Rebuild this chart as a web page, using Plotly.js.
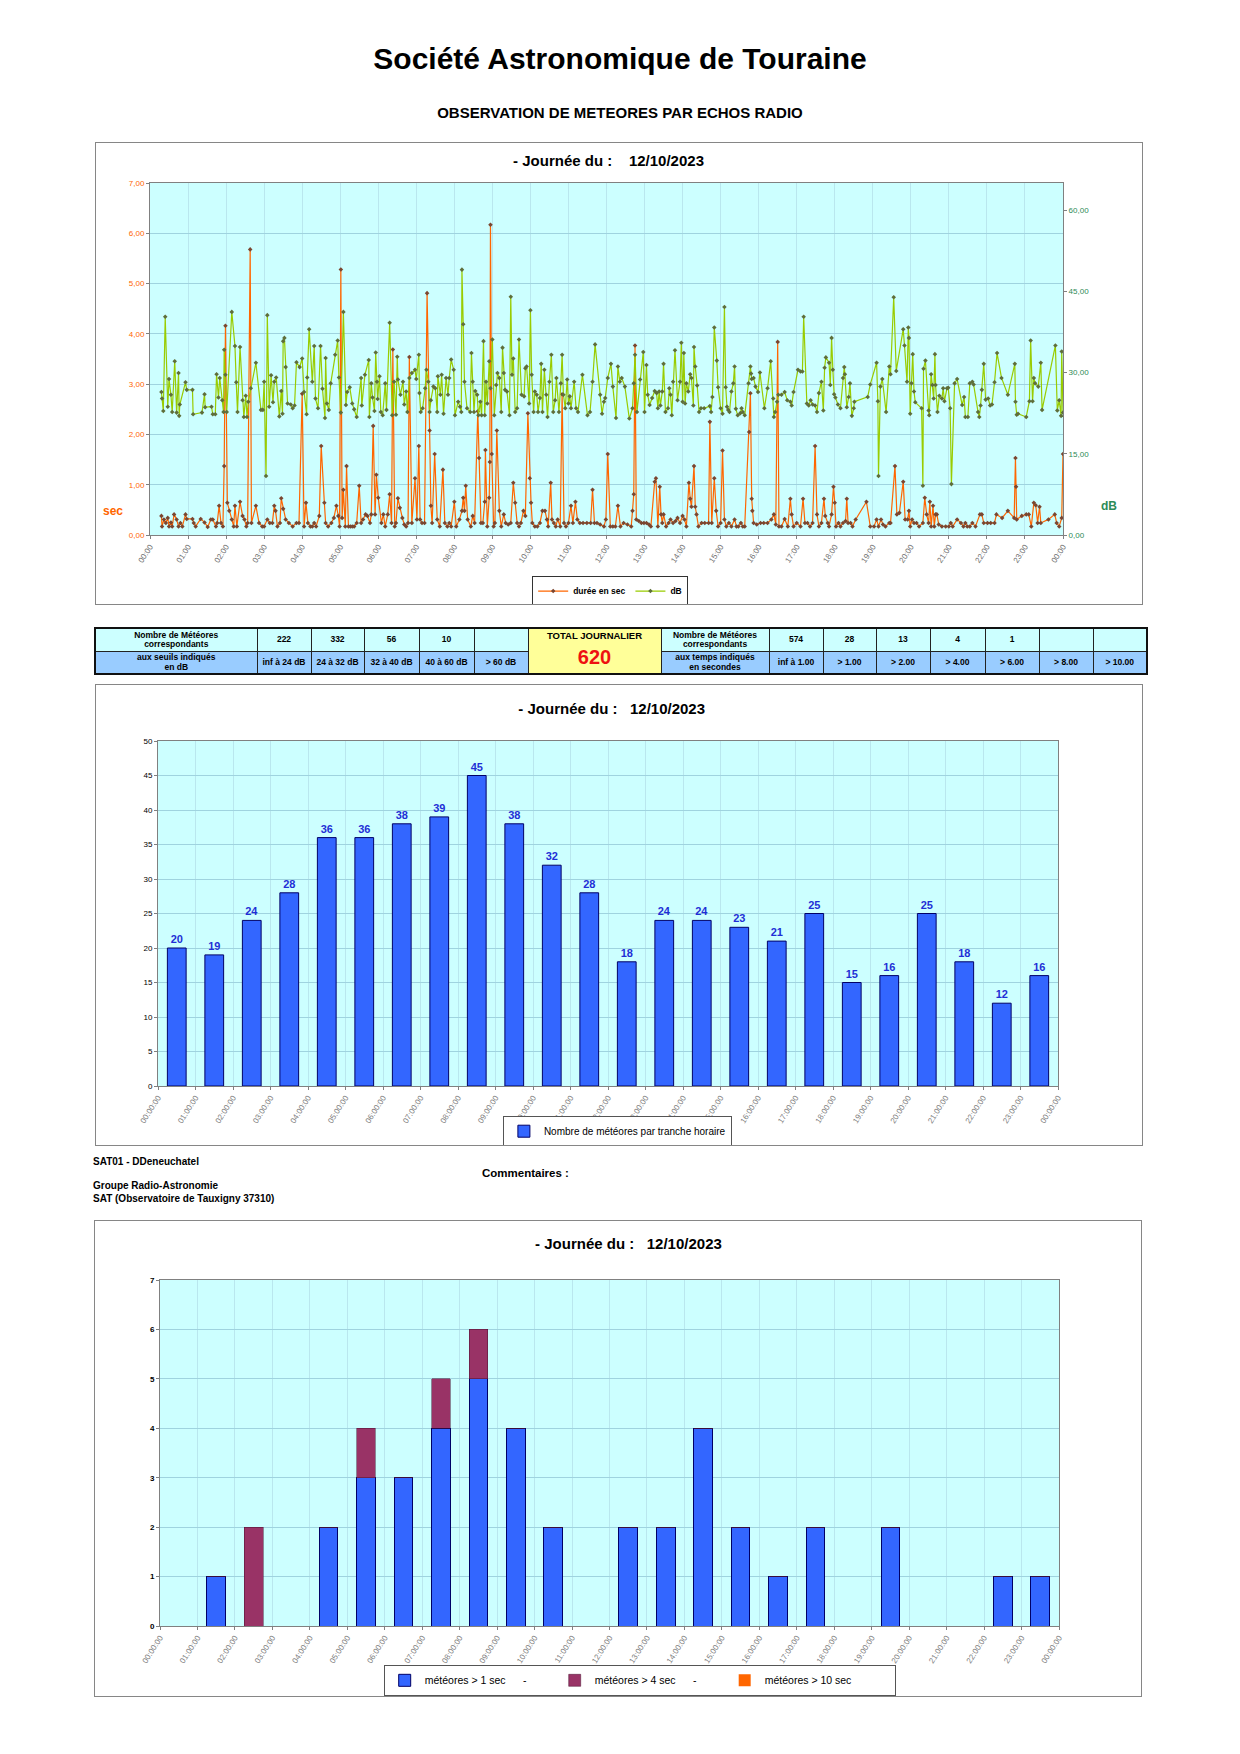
<!DOCTYPE html>
<html>
<head>
<meta charset="utf-8">
<script src="https://cdn.plot.ly/plotly-3.0.1.min.js"></script>
<style>
  body { margin:0; background:#fff; font-family:"Liberation Sans", Arial, sans-serif; }
  #page { position:relative; width:1240px; height:1754px; overflow:hidden; }
  .txt { position:absolute; white-space:nowrap; color:#000; font-weight:bold; }
  .frame { position:absolute; border:1px solid #868686; box-sizing:border-box; background:#fff; }
  .plot { position:absolute; left:0; top:0; }
  #stats { position:absolute; left:94px; top:627px; width:1052px; border-collapse:collapse; table-layout:fixed; border:2px solid #111; }
  #stats td { border:1px solid #222; padding:0; text-align:center; vertical-align:middle; font-size:8.5px; line-height:9.5px; font-weight:bold; overflow:hidden; white-space:nowrap; }
  #stats tr.top td { background:#ccffff; height:22px; }
  #stats tr.bot td { background:#99ccff; height:21px; }
  #stats td.total { background:#ffff99 !important; }
  .tt { font-size:9.5px; font-weight:bold; margin-top:-4px; }
  .tv { font-size:20px; font-weight:bold; color:#ee1111; margin-top:6px; line-height:20px; }
</style>
</head>
<body>
<div id="page">
  <div class="txt" style="left:0;width:1240px;text-align:center;top:42px;font-size:30px;line-height:34px;">Société Astronomique de Touraine</div>
  <div class="txt" style="left:0;width:1240px;text-align:center;top:104px;font-size:15px;line-height:17px;">OBSERVATION DE METEORES PAR ECHOS RADIO</div>

  <div class="frame" style="left:95px;top:142px;width:1048px;height:463px;"><div id="chart1" class="plot"></div></div>

  <table id="stats"></table>

  <div class="frame" style="left:95px;top:684px;width:1048px;height:462px;"><div id="chart2" class="plot"></div></div>

  <div class="txt" style="left:93px;top:1156px;font-size:10px;line-height:12px;">SAT01 - DDeneuchatel</div>
  <div class="txt" style="left:482px;top:1166px;font-size:11.5px;line-height:14px;">Commentaires :</div>
  <div class="txt" style="left:93px;top:1180px;font-size:10px;line-height:12px;">Groupe Radio-Astronomie</div>
  <div class="txt" style="left:93px;top:1193px;font-size:10px;line-height:12px;">SAT (Observatoire de Tauxigny 37310)</div>

  <div class="frame" style="left:94px;top:1220px;width:1048px;height:477px;"><div id="chart3" class="plot"></div></div>
</div>

<script>
// ---------------- DATA ----------------
const hourLabels = ['00:00','01:00','02:00','03:00','04:00','05:00','06:00','07:00','08:00','09:00','10:00','11:00',
  '12:00','13:00','14:00','15:00','16:00','17:00','18:00','19:00','20:00','21:00','22:00','23:00','00:00'];
const hourLabelsLong = ['00:00:00','01:00:00','02:00:00','03:00:00','04:00:00','05:00:00','06:00:00','07:00:00',
  '08:00:00','09:00:00','10:00:00','11:00:00','12:00:00','13:00:00','14:00:00','15:00:00','16:00:00','17:00:00',
  '18:00:00','19:00:00','20:00:00','21:00:00','22:00:00','23:00:00','00:00:00'];

// meteor durations: time of day (minutes) and duration (s)
const durTime = [
  18,19,22,25,28,30,33,35,38,42, 45,48,51,56,58,67,69,72,80,86, 91,96,99,104,106,109,112,115,117,119,
  122,125,129,132,134,137,142,146,149,152, 154,158,160,167,172,177,180,185,189,193, 196,198,201,205,207,210,214,219,225,231,
  235,240,243,246,249,253,256,259,262,267, 270,275,277,281,286,290,294,297,299,301, 303,305,308,310,313,316,319,322,326,330,
  333,336,340,343,347,349,352,355,357,360, 365,368,371,375,378,381,383,386,388,391, 394,398,401,404,407,409,413,418,421,424,
  426,429,433,437,441,443,445,449,453,457, 462,465,469,472,475,480,483,488,492,494, 496,498,501,506,509,512,517,519,522,525,
  528,529,532,535,536,537,539,542,544,547, 551,554,558,561,565,569,573,576,579,582, 585,589,592,596,599,601,603,607,611,615,
  619,623,626,628,632,634,637,640,643,647, 650,653,656,660,664,667,671,674,678,683, 689,695,698,701,705,710,716,719,722,726,
  730,734,738,742,747,753,759,761,763,765, 767,771,775,779,783,787,790,796,798,801, 804,806,808,810,814,818,821,825,829,832,
  836,840,843,846,850,852,854,858,860,862, 865,870,875,881,883,886,890,893,896,900, 903,906,909,913,917,922,925,928,932,935,
  938,945,947,949,950,952,957,963,968,974, 980,984,987,990,992,996,1001,1006,1010,1012, 1015,1020,1026,1030,1033,1037,1041,1045,1049,1052,
  1055,1059,1063,1065,1069,1071,1075,1078,1080,1082, 1086,1089,1093,1097,1099,1101,1105,1108,1113,1130, 1136,1142,1146,1149,1153,1156,1160,1166,1168,1175,
  1178,1182,1188,1191,1195,1197,1199,1202,1205,1209, 1213,1219,1222,1225,1228,1230,1232,1235,1237,1239, 1241,1244,1249,1255,1260,1263,1266,1273,1279,1283,
  1286,1289,1293,1297,1302,1309,1312,1315,1321,1326, 1332,1335,1344,1353,1363,1365,1366,1367,1375,1382, 1386,1390,1394,1397,1400,1403,1405,1417,1427,1430,
  1434,1438,1440
];
const durSec = [
  0.38,0.17,0.31,0.24,0.34,0.17,0.25,0.17,0.41,0.31, 0.17,0.24,0.17,0.41,0.32,0.32,0.24,0.17,0.32,0.25, 0.16,0.31,0.31,0.17,0.24,0.58,0.24,0.17,1.37,4.16,
  0.64,0.48,0.31,0.17,0.58,0.17,0.66,0.38,0.31,0.17, 0.24,5.68,0.24,0.58,0.24,0.17,0.17,0.31,0.24,0.24, 0.58,0.48,0.17,0.24,0.73,0.52,0.31,0.24,0.17,0.24,
  0.24,2.81,0.17,0.64,0.24,0.17,0.17,0.24,0.17,0.38, 1.77,0.64,0.24,0.17,0.24,0.34,0.58,0.38,0.17,5.28, 0.34,0.90,0.17,1.37,0.17,0.17,0.17,0.17,0.24,0.98,
  0.24,0.31,0.41,0.38,0.24,0.41,2.17,0.41,1.20,0.74, 0.24,0.41,0.17,0.41,0.81,0.24,3.69,0.17,0.24,0.73, 0.54,0.34,0.21,0.17,0.24,3.54,0.24,1.13,0.31,1.77,
  0.31,0.24,0.24,4.81,2.08,0.58,0.24,1.61,0.31,0.17, 1.30,0.24,0.17,0.24,0.17,0.66,0.17,0.31,0.48,0.74, 0.48,0.98,0.31,0.17,0.38,0.24,2.46,1.53,0.24,0.24,
  0.66,1.69,0.17,0.74,1.45,6.17,1.61,0.17,0.24,2.08, 0.48,0.17,0.41,0.24,0.21,0.24,1.04,0.64,0.24,0.17, 0.24,0.48,0.38,2.42,1.13,0.64,0.24,0.17,0.17,0.24,
  0.48,0.48,0.31,0.17,1.04,0.31,0.24,0.17,0.31,0.17, 2.80,0.24,0.17,0.24,0.58,0.24,0.66,0.31,0.24,0.24, 0.24,0.24,0.90,0.24,0.24,0.21,0.17,0.31,1.61,0.17,
  0.17,0.17,0.58,0.17,0.24,0.21,0.17,0.48,0.81,3.77, 0.31,0.28,0.24,0.24,0.24,0.21,0.17,1.06,1.13,0.17, 0.96,0.41,0.24,0.41,0.17,0.24,0.31,0.24,0.28,0.34,
  0.24,0.38,0.31,0.17,1.04,0.72,0.56,1.37,0.56,0.41, 0.17,0.24,0.24,0.24,2.25,0.24,1.13,0.48,0.17,0.24, 1.68,0.31,0.17,0.24,0.17,0.31,0.17,0.17,0.24,0.17,
  0.17,2.05,2.82,0.72,0.48,0.24,0.21,0.24,0.24,0.24, 0.31,0.41,0.21,3.84,0.17,0.17,0.32,0.17,0.72,0.41, 0.17,0.24,0.17,0.72,0.24,0.24,0.17,0.24,1.77,0.41,
  0.17,0.24,0.72,0.38,0.24,0.17,0.41,0.96,0.64,0.17, 0.24,0.17,0.24,0.28,0.72,0.24,0.24,0.17,0.31,0.66, 0.17,0.17,0.31,0.17,0.31,0.21,0.17,0.24,0.24,1.37,
  0.41,0.44,1.06,0.31,0.31,0.48,0.17,0.31,0.24,0.24, 0.17,0.24,0.74,0.41,0.24,0.66,0.17,0.58,0.17,0.41, 0.41,0.21,0.17,0.17,0.17,0.24,0.17,0.31,0.24,0.17,
  0.24,0.17,0.17,0.24,0.17,0.41,0.41,0.24,0.24,0.24, 0.24,0.41,0.34,0.48,0.34,1.53,0.96,0.31,0.38,0.41, 0.41,0.17,0.64,0.59,0.24,0.56,0.24,0.31,0.41,0.24,
  0.17,0.34,1.61
];

// echo strength: time of day (minutes) and level (dB)
const dbTime = [
  18,19,21,24,28,30,33,35,39,42, 45,46,47,56,58,67,68,82,86,87, 97,99,103,105,108,110,114,116,117,119,
  121,129,134,136,138,142,146,148,151,153, 155,159,167,175,178,180,183,185,188,191, 194,196,199,204,207,209,210,212,214,217,
  222,225,228,231,236,240,243,247,248,251, 256,259,261,265,269,272,276,277,279,282, 285,292,296,298,301,305,309,311,315,319,
  322,326,333,334,339,345,346,349,351,354, 356,358,359,362,364,367,371,373,378,382, 385,388,390,391,395,399,401,404,406,409,
  413,418,420,424,425,427,430,434,436,439, 441,443,447,450,453,454,458,460,463,467, 470,472,475,479,481,486,489,491,492,494,
  496,500,505,507,509,511,513,516,518,521, 523,526,528,530,532,535,537,540,543,546, 548,551,554,556,558,560,563,567,569,571,
  573,576,579,582,586,590,592,594,598,600, 602,605,607,610,612,615,617,619,622,625, 627,630,633,636,639,641,645,648,650,652,
  655,658,660,662,664,669,672,675,682,690, 694,698,702,710,713,716,718,722,727,730, 735,738,741,744,749,756,761,763,765,768,
  773,778,780,783,785,788,792,796,799,801, 803,805,808,810,813,817,819,821,823,825, 828,832,836,838,840,842,844,846,849,852,
  854,857,858,860,863,866,869,874,883,885, 887,890,894,896,900,903,906,908,910,912, 914,917,920,922,924,927,931,933,935,938,
  944,947,948,949,952,955,959,962,969,974, 979,983,984,986,989,991,996,1001,1005,1010, 1012,1015,1022,1026,1029,1031,1036,1039,1042,1045,
  1049,1052,1055,1059,1062,1064,1066,1071,1073,1075, 1077,1079,1081,1085,1089,1093,1095,1096,1099,1102, 1104,1107,1110,1111,1132,1136,1146,1148,1149,1152,
  1155,1161,1166,1168,1173,1177,1188,1190,1194,1196, 1197,1199,1201,1203,1205,1207,1217,1219,1220,1223, 1228,1229,1232,1234,1236,1238,1239,1242,1245,1249,
  1251,1253,1257,1259,1262,1264,1269,1273,1281,1284, 1286,1290,1293,1297,1299,1306,1308,1310,1312,1315, 1318,1322,1325,1328,1332,1336,1343,1353,1364,1365,
  1367,1369,1382,1387,1389,1392,1394,1396,1401,1405, 1407,1428,1431,1434,1437,1438,1440
];
const dbLevel = [
  26.4,25.2,22.9,40.3,23.7,28.8,25.9,22.7,32.1,22.6, 29.9,22.0,24.1,28.2,26.8,26.8,22.3,22.6,26.0,23.6, 23.7,22.3,22.3,29.7,25.4,29.0,24.9,22.7,34.2,29.6,
  22.7,41.2,34.9,28.2,22.7,34.7,24.9,21.8,25.7,21.8, 24.6,27.1,31.8,23.1,23.1,28.3,10.9,40.6,23.7,29.5, 24.5,28.3,29.1,21.9,26.6,22.4,35.8,36.4,31.0,24.3,
  24.1,23.4,23.9,31.9,31.0,32.6,26.4,22.3,29.1,38.0, 28.3,34.9,25.2,23.4,34.9,27.0,21.6,32.7,24.3,23.1, 28.0,33.3,35.9,29.1,22.6,41.2,24.0,26.4,27.3,24.3,
  23.2,21.8,29.0,23.9,29.6,32.3,21.8,28.0,25.4,22.9, 33.7,28.3,25.1,29.3,22.7,22.1,28.0,23.1,39.2,22.1, 28.3,22.2,32.9,28.7,25.9,28.3,24.1,26.5,22.7,29.0,
  29.9,30.5,28.8,33.3,26.2,22.7,23.4,27.1,30.5,28.3, 22.7,24.9,27.4,27.1,22.7,29.3,25.9,29.6,22.4,29.0, 25.9,29.0,32.4,30.5,22.1,24.6,23.7,22.7,49.0,38.9,
  28.3,23.4,22.7,33.6,28.3,22.7,26.6,25.9,22.1,24.6, 22.1,35.8,22.1,28.3,24.3,32.1,27.1,36.1,22.1,27.7, 29.9,29.0,22.7,34.6,29.9,26.8,26.5,22.1,44.0,29.6,
  32.6,22.7,23.4,36.1,25.9,25.6,30.8,31.1,24.3,41.5, 29.6,22.7,26.5,25.9,22.7,25.3,31.6,22.7,30.5,25.9, 21.8,28.3,33.3,22.7,24.9,29.0,22.7,28.0,33.3,25.9,
  23.4,28.7,24.3,25.6,23.4,28.3,23.4,22.7,29.6,22.1, 22.7,28.3,35.2,25.9,22.4,24.6,25.3,29.0,31.6,27.4, 21.6,31.1,28.3,29.0,27.4,21.5,23.4,28.0,33.3,22.7,
  28.7,33.8,22.7,31.4,25.9,24.0,25.3,26.6,26.2,23.4, 26.5,23.9,26.5,31.6,22.7,23.4,27.1,25.9,22.1,28.3, 34.1,24.9,28.3,35.5,24.6,33.6,24.3,28.0,26.5,29.7,
  29.0,23.9,34.7,31.1,27.6,22.7,23.4,23.4,23.8,22.7, 25.5,38.3,32.2,27.3,23.4,22.4,42.1,27.3,23.7,23.1, 22.7,26.5,28.0,31.1,23.3,22.1,22.5,23.4,22.7,22.1,
  28.0,31.1,29.8,28.8,29.0,27.4,26.4,30.0,23.4,27.1, 32.1,25.2,21.8,22.7,24.6,25.9,25.9,26.4,24.9,24.6, 23.9,26.4,30.5,30.2,30.2,40.3,24.3,23.9,24.9,24.1,
  23.9,22.7,26.2,28.3,23.0,30.9,32.8,31.8,27.7,36.4, 30.5,26.0,25.4,24.1,23.4,29.0,31.0,29.7,23.6,25.5, 28.0,22.0,23.4,24.6,25.5,27.8,31.8,24.7,10.9,27.4,
  28.8,22.7,31.1,29.7,43.9,30.3,38.0,35.0,28.3,38.3, 36.4,22.4,28.0,33.4,26.5,24.5,23.4,9.1,30.7,32.2, 23.0,22.1,29.7,27.7,25.2,33.4,27.7,22.7,25.7,25.2,
  27.1,24.7,27.1,27.2,23.4,9.4,28.0,28.8,24.0,25.5, 21.8,21.8,28.0,28.3,27.8,22.7,21.8,23.9,26.8,31.6, 25.0,25.2,23.9,24.1,28.2,33.6,29.0,25.9,31.6,24.6,
  22.2,22.4,21.8,24.7,35.9,24.7,29.0,28.0,27.4,31.8, 23.1,35.0,23.0,24.9,22.0,33.9,22.6
];

// summary table
const dbCounts  = ['222','332','56','10',''];
const dbRanges  = ['inf à 24 dB','24 à 32 dB','32 à 40 dB','40 à 60 dB','> 60 dB'];
const secCounts = ['574','28','13','4','1','',''];
const secRanges = ['inf à 1.00','> 1.00','> 2.00','> 4.00','> 6.00','> 8.00','> 10.00'];
const dailyTotal = 620;

// meteors per hour
const hourIndex = [0,1,2,3,4,5,6,7,8,9,10,11,12,13,14,15,16,17,18,19,20,21,22,23];
const perHour = [20,19,24,28,36,36,38,39,45,38,32,28,18,24,24,23,21,25,15,16,25,18,12,16];

// long meteors per hour
const over1s  = [0,1,0,0,2,3,3,4,5,4,2,0,2,2,4,2,1,2,0,2,0,0,1,1];
const over4s  = [0,0,2,0,0,1,0,1,1,0,0,0,0,0,0,0,0,0,0,0,0,0,0,0];
const over10s = [0,0,0,0,0,0,0,0,0,0,0,0,0,0,0,0,0,0,0,0,0,0,0,0];

// ---------------- STYLE ----------------
const FONT = 'Liberation Sans, Arial, sans-serif';
const PLOTBG = '#ccffff';
const GRID = '#9fd3df';
const VGRID = '#b9e7ee';
const AXIS = '#808080';
const cfg = {staticPlot:true, displayModeBar:false};

// ---------------- TABLE ----------------
(function(){
  const colW = [162,54,53,55,55,54,133,108,54,53,54,55,54,54,54];
  let h = '<colgroup>' + colW.map(w => '<col style="width:' + w + 'px">').join('') + '</colgroup>';
  h += '<tr class="top"><td>Nombre de Météores<br>correspondants</td>' +
       dbCounts.map(v => '<td>' + v + '</td>').join('') +
       '<td rowspan="2" class="total"><div class="tt">TOTAL JOURNALIER</div><div class="tv">' + dailyTotal + '</div></td>' +
       '<td>Nombre de Météores<br>correspondants</td>' +
       secCounts.map(v => '<td>' + v + '</td>').join('') + '</tr>';
  h += '<tr class="bot"><td>aux seuils indiqués<br>en dB</td>' +
       dbRanges.map(v => '<td>' + v + '</td>').join('') +
       '<td>aux temps indiqués<br>en secondes</td>' +
       secRanges.map(v => '<td>' + v + '</td>').join('') + '</tr>';
  document.getElementById('stats').innerHTML = h;
})();

// ---------------- CHART 1 ----------------
(function(){
  const traces = [
    {x: dbTime, y: dbLevel, yaxis:'y2', type:'scatter', mode:'lines+markers', name:'dB',
     line:{color:'#99cc00', width:1.2}, marker:{symbol:'diamond', size:3.5, color:'#5e6e3a'}},
    {x: durTime, y: durSec, type:'scatter', mode:'lines+markers', name:'durée en sec',
     line:{color:'#ff6600', width:1.2}, marker:{symbol:'diamond', size:3.5, color:'#7a4630'}}
  ];
  const layout = {
    width:1046, height:461,
    margin:{l:54, r:79, t:40, b:69, autoexpand:false},
    paper_bgcolor:'#fff', plot_bgcolor:PLOTBG,
    separators:', ',
    font:{family:FONT, size:8, color:'#000'},
    title:{text:'<b>- Journée du :&nbsp;&nbsp;&nbsp;&nbsp;12/10/2023</b>', font:{size:15, family:FONT, color:'#000'},
           xref:'container', yref:'container', x:0.49, y:0.961, xanchor:'center', yanchor:'middle'},
    xaxis:{range:[0,1440], tickmode:'array', tickvals:hourLabels.map((_, i) => i*60), ticktext:hourLabels,
           tickangle:-57, tickfont:{size:8, color:'#707070'}, showgrid:true, gridcolor:VGRID, gridwidth:1,
           showline:true, linecolor:AXIS, linewidth:1, mirror:true, ticks:'outside', ticklen:3, tickcolor:AXIS,
           zeroline:false, automargin:false},
    yaxis:{range:[0,7], dtick:1, tickformat:'.2f', tickfont:{size:8, color:'#ff6600'}, showgrid:true, gridcolor:GRID,
           showline:true, linecolor:AXIS, linewidth:1, mirror:true, ticks:'outside', ticklen:3, tickcolor:AXIS,
           zeroline:false, automargin:false},
    yaxis2:{overlaying:'y', side:'right', range:[0,65], tickmode:'array', tickvals:[0,15,30,45,60], tickformat:'.2f',
            tickfont:{size:8, color:'#2e8b57'}, showgrid:false, ticks:'outside', ticklen:3, tickcolor:AXIS,
            zeroline:false, automargin:false},
    showlegend:true,
    legend:{orientation:'h', xref:'container', yref:'container', x:0.417, y:0.028, xanchor:'left', yanchor:'middle',
            traceorder:'reversed', bordercolor:'#333', borderwidth:1, bgcolor:'#fff',
            font:{size:8.5, family:FONT, color:'#000', weight:'bold'}, itemwidth:30, tracegroupgap:0},
    annotations:[
      {xref:'paper', yref:'paper', x:-0.0405, y:0.068, text:'<b>sec</b>', showarrow:false,
       font:{size:12, color:'#ff6600', family:FONT}, xanchor:'center', yanchor:'middle'},
      {xref:'paper', yref:'paper', x:1.050, y:0.082, text:'<b>dB</b>', showarrow:false,
       font:{size:12, color:'#2e8b57', family:FONT}, xanchor:'center', yanchor:'middle'}
    ]
  };
  Plotly.newPlot('chart1', traces, layout, cfg);
})();

// ---------------- CHART 2 ----------------
(function(){
  const traces = [
    {x: hourIndex, y: perHour, type:'bar', name:'Nombre de météores par tranche horaire', width:0.5,
     marker:{color:'#3366ff', line:{color:'#000066', width:1}},
     text: perHour.map(String), texttemplate:'<b>%{text}</b>', textposition:'outside', cliponaxis:false,
     textfont:{size:11, color:'#1f2fd6', family:FONT}}
  ];
  const layout = {
    width:1046, height:460,
    margin:{l:62, r:84, t:56, b:59, autoexpand:false},
    paper_bgcolor:'#fff', plot_bgcolor:PLOTBG,
    font:{family:FONT, size:8, color:'#000'},
    title:{text:'<b>- Journée du :&nbsp;&nbsp;&nbsp;12/10/2023</b>', font:{size:15, family:FONT, color:'#000'},
           xref:'container', yref:'container', x:0.493, y:0.948, xanchor:'center', yanchor:'middle'},
    xaxis:{range:[-0.5,23.5], tickmode:'array', tickvals:hourLabelsLong.map((_, i) => i - 0.5), ticktext:hourLabelsLong,
           tickangle:-57, tickfont:{size:8, color:'#808080'}, showgrid:true, gridcolor:VGRID,
           showline:true, linecolor:AXIS, linewidth:1, mirror:true, ticks:'outside', ticklen:3, tickcolor:AXIS,
           zeroline:false, automargin:false},
    yaxis:{range:[0,50], dtick:5, tickfont:{size:8, color:'#000'}, showgrid:true, gridcolor:GRID,
           showline:true, linecolor:AXIS, linewidth:1, mirror:true, ticks:'outside', ticklen:3, tickcolor:AXIS,
           zeroline:false, automargin:false},
    showlegend:true,
    legend:{orientation:'h', xref:'container', yref:'container', x:0.389, y:0.030, xanchor:'left', yanchor:'middle',
            bordercolor:'#555', borderwidth:1, bgcolor:'#fff', font:{size:10, family:FONT, color:'#000'}}
  };
  Plotly.newPlot('chart2', traces, layout, cfg);
})();

// ---------------- CHART 3 ----------------
(function(){
  const traces = [
    {x: hourIndex, y: over1s, type:'bar', name:'météores > 1 sec&nbsp;&nbsp;&nbsp;&nbsp;&nbsp;&nbsp;-', width:0.5,
     marker:{color:'#3366ff', line:{color:'#000066', width:1}}},
    {x: hourIndex, y: over4s, type:'bar', name:'météores > 4 sec&nbsp;&nbsp;&nbsp;&nbsp;&nbsp;&nbsp;-', width:0.5,
     marker:{color:'#993366', line:{color:'#4a1030', width:0.5}}},
    {x: hourIndex, y: over10s, type:'bar', name:'météores > 10 sec', width:0.5,
     marker:{color:'#ff6600', line:{color:'#ff6600', width:0}}}
  ];
  const layout = {
    width:1046, height:475,
    margin:{l:65, r:82, t:59, b:70, autoexpand:false},
    paper_bgcolor:'#fff', plot_bgcolor:PLOTBG,
    font:{family:FONT, size:8, color:'#000'},
    title:{text:'<b>- Journée du :&nbsp;&nbsp;&nbsp;12/10/2023</b>', font:{size:15, family:FONT, color:'#000'},
           xref:'container', yref:'container', x:0.51, y:0.952, xanchor:'center', yanchor:'middle'},
    barmode:'stack',
    xaxis:{range:[-0.5,23.5], tickmode:'array', tickvals:hourLabelsLong.map((_, i) => i - 0.5), ticktext:hourLabelsLong,
           tickangle:-57, tickfont:{size:8, color:'#808080'}, showgrid:true, gridcolor:VGRID,
           showline:true, linecolor:AXIS, linewidth:1, mirror:true, ticks:'outside', ticklen:3, tickcolor:AXIS,
           zeroline:false, automargin:false},
    yaxis:{range:[0,7], dtick:1, tickfont:{size:8, color:'#000', weight:'bold'}, showgrid:true, gridcolor:GRID,
           showline:true, linecolor:AXIS, linewidth:1, mirror:true, ticks:'outside', ticklen:3, tickcolor:AXIS,
           zeroline:false, automargin:false},
    showlegend:true,
    legend:{orientation:'h', xref:'container', yref:'container', x:0.276, y:0.033, xanchor:'left', yanchor:'middle',
            traceorder:'normal', entrywidth:125, entrywidthmode:'pixels',
            bordercolor:'#555', borderwidth:1, bgcolor:'#fff', font:{size:10.5, family:FONT, color:'#000'}}
  };
  Plotly.newPlot('chart3', traces, layout, cfg);
})();
</script>
</body>
</html>
